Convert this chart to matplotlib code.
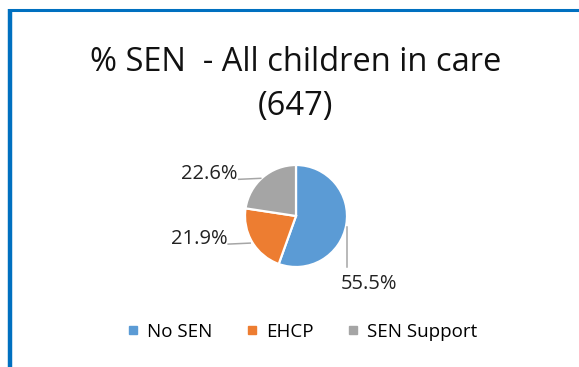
import matplotlib

matplotlib.use("Agg")
import matplotlib.pyplot as plt
import numpy as np
from matplotlib.lines import Line2D

# ---------------------------------------------------------------- data
categories = ["No SEN", "EHCP", "SEN Support"]
shares = [55.5, 21.9, 22.6]
colors = ["#5B9BD5", "#ED7D31", "#A5A5A5"]
title = "% SEN  - All children in care\n(647)"

FONT = "Open Sans"
W, H = 579, 367
BORDER = "#0070C0"
LEADER = "#A6A6A6"

fig = plt.figure(figsize=(W / 100, H / 100), dpi=100, facecolor="white")
# one axes in pixel units (y up)
ax = fig.add_axes([0, 0, 1, 1])
ax.set_xlim(0, W)
ax.set_ylim(0, H)
ax.set_aspect("equal")
ax.axis("off")

# blue frame pieces (left and top edges)
ax.plot([10, 10], [0, H - 9], color=BORDER, lw=3.2, solid_capstyle="butt")
ax.plot([8, W], [H - 10, H - 10], color=BORDER, lw=2.2, solid_capstyle="butt")

cx, cy, r = 296, H - 216, 51
wedges, _ = ax.pie(shares, colors=colors, startangle=90, counterclock=False,
                   center=(cx, cy), radius=r, frame=True,
                   wedgeprops=dict(edgecolor="white", linewidth=1.6))
ax.set_xlim(0, W)
ax.set_ylim(0, H)
ax.axis("off")

# data labels with leader lines
for k, wdg in enumerate(wedges):
    mid = np.deg2rad(0.5 * (wdg.theta1 + wdg.theta2))
    px, py = cx + r * np.cos(mid), cy + r * np.sin(mid)
    txt = f"{shares[k]:.1f}%"
    if np.cos(mid) > 0:
        # vertical leader down to label below right
        ax.plot([px + 1, px + 1], [py - 2, py - 42], color=LEADER, lw=1.1)
        ax.text(px + 23, py - 59, txt, fontsize=14.5, family=FONT,
                ha="center", va="center", color="#222222")
    else:
        ax.plot([px - 2, px - 24], [py - 1, py - 2], color=LEADER, lw=1.1)
        ax.text(px - 25, py + 3, txt, fontsize=14.5, family=FONT,
                ha="right", va="center", color="#222222")

fig.text(0.51, 1 - 84.5 / H, title, fontsize=23.5, family=FONT, ha="center",
         va="center", color="#111111", linespacing=1.47)

handles = [Line2D([], [], marker="s", ls="none", color=c, markersize=6)
           for c in colors]
fig.legend(handles, categories, loc="center", bbox_to_anchor=(0.52, 1 - 332 / H),
           ncol=3, frameon=False, prop=dict(family=FONT, size=13.5),
           handletextpad=0.35, columnspacing=1.7, handlelength=0.8)

fig.savefig("out.png", dpi=100, facecolor="white")
